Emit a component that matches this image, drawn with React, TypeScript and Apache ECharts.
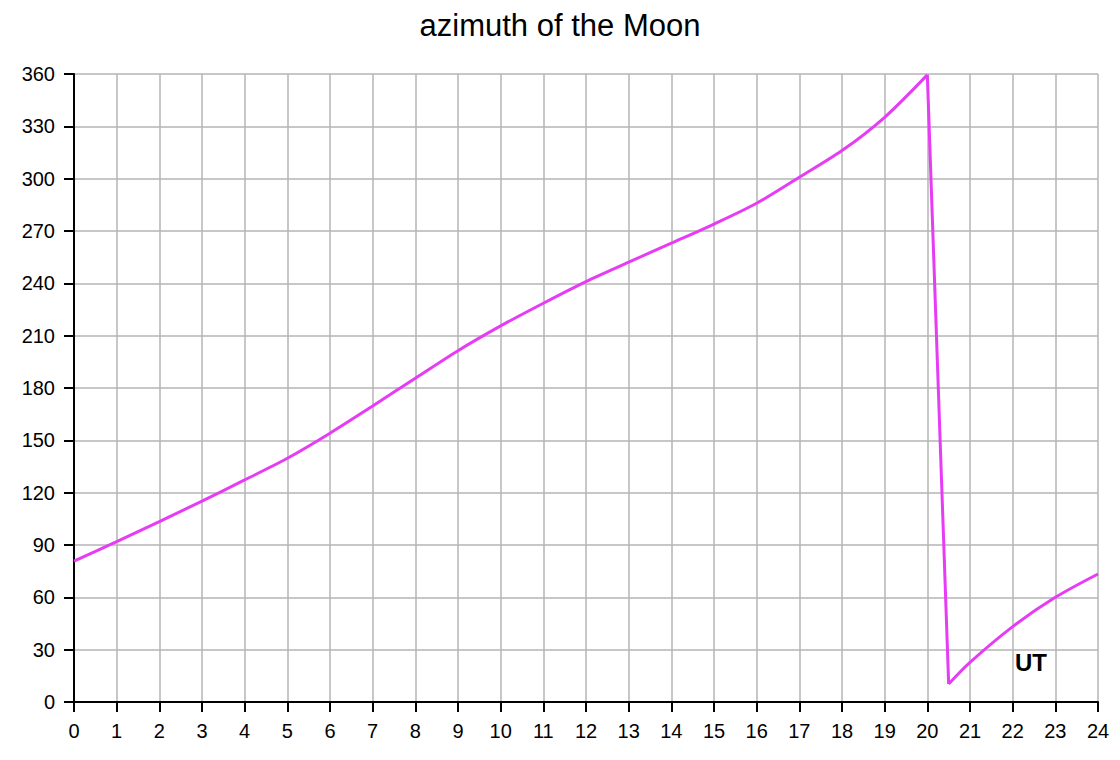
import React, { useEffect, useRef } from "react";
import * as echarts from "echarts";

const TITLE = "azimuth of the Moon";
const hoursUT = [0, 1, 2, 3, 4, 5, 6, 7, 8, 9, 10, 11, 12, 13, 14, 15, 16, 17, 18, 19, 20, 20.5, 21, 22, 23, 24];
const azimuthDeg = [80.7, 91.9, 103.4, 115.2, 127.3, 139.7, 154.1, 169.7, 185.6, 201.4, 215.6, 228.6, 241, 252.1, 263, 274, 285.9, 300.8, 316.1, 335.2, 359.5, 10.3, 22.7, 43.2, 60, 73.4];
const xLabel = "UT";

export default function App() {
  const ref = useRef<HTMLDivElement>(null);
  useEffect(() => {
    if (!ref.current) return;
    const chart = echarts.init(ref.current, null, { renderer: "svg" });
    const font = "Liberation Sans, Arial, sans-serif";
    const pts = hoursUT.map((h, i) => [h, azimuthDeg[i]]);
    // split at the wrap-around (360 -> 0) so each branch can be smoothed separately
    let wrap = 1;
    for (let i = 1; i < pts.length; i++) {
      if (pts[i][1] < pts[i - 1][1]) { wrap = i; break; }
    }
    const lineStyle = { color: "#e63cf5", width: 3 };
    const base = { type: "line", showSymbol: false, symbol: "none", lineStyle, z: 5 };
    chart.setOption({
      animation: false,
      backgroundColor: "#ffffff",
      title: {
        text: TITLE,
        left: "center",
        top: 5,
        textStyle: { fontFamily: font, fontSize: 31, fontWeight: "normal", color: "#000" },
      },
      grid: { left: 74, right: 22, top: 74, bottom: 58, containLabel: false },
      xAxis: {
        type: "value",
        min: 0,
        max: 24,
        interval: 1,
        axisLine: { show: true, onZero: false, lineStyle: { color: "#000", width: 2 } },
        axisTick: { show: true, length: 10, lineStyle: { color: "#000", width: 2 } },
        axisLabel: { fontFamily: font, fontSize: 20, color: "#000", margin: 19 },
        splitLine: { show: true, lineStyle: { color: "#b4b4b4", width: 1.5 } },
      },
      yAxis: {
        type: "value",
        min: 0,
        max: 360,
        interval: 30,
        axisLine: { show: true, onZero: false, lineStyle: { color: "#000", width: 2 } },
        axisTick: { show: true, length: 10, lineStyle: { color: "#000", width: 2 } },
        axisLabel: { fontFamily: font, fontSize: 20, color: "#000", margin: 19 },
        splitLine: { show: true, lineStyle: { color: "#b4b4b4", width: 1.5 } },
      },
      graphic: [
        {
          type: "text",
          left: 1015,
          top: 650,
          z: 100,
          style: { text: xLabel, fontFamily: font, fontSize: 24, fontWeight: "bold", fill: "#000" },
        },
      ],
      series: [
        { ...base, smooth: 0.3, data: pts.slice(0, wrap) },
        { ...base, smooth: false, data: pts.slice(wrap - 1, wrap + 1) },
        { ...base, smooth: 0.3, data: pts.slice(wrap) },
      ],
    });
    return () => chart.dispose();
  }, []);
  return (
    <div
      ref={ref}
      style={{ position: "fixed", left: 0, top: 0, width: 1120, height: 760 }}
    />
  );
}
